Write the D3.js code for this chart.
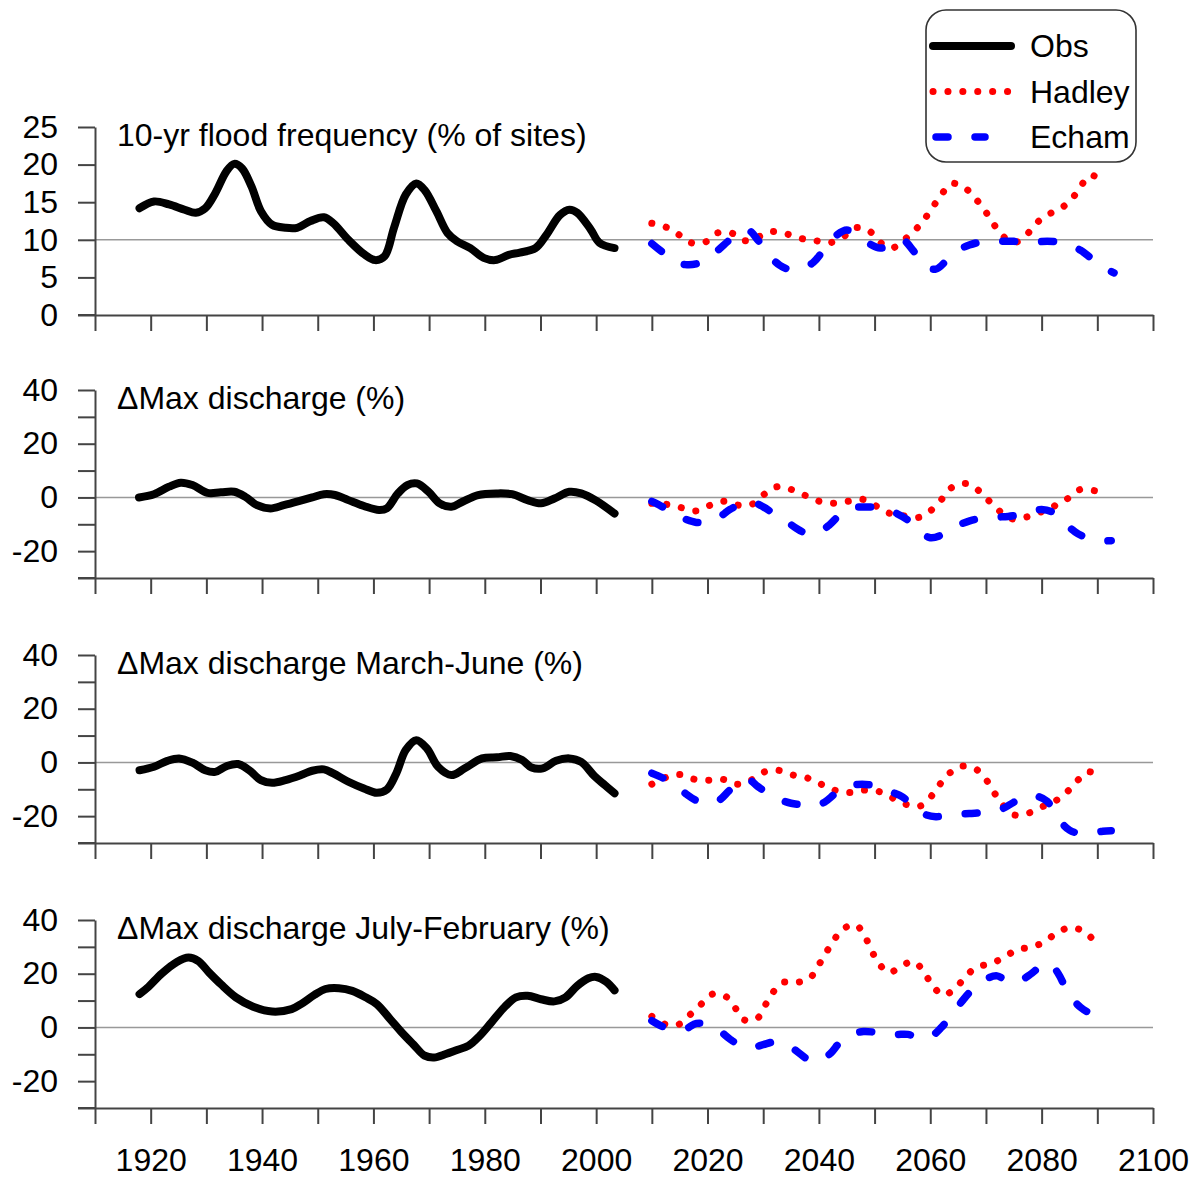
<!DOCTYPE html>
<html>
<head>
<meta charset="utf-8">
<script src="https://cdn.jsdelivr.net/npm/d3@7"></script>
<style>
  body { margin: 0; background: #fff; overflow: hidden; }
  svg { display: block; font-family: "Liberation Sans", Arial, sans-serif; }
  .axis path, .axis line { stroke: #444; stroke-width: 2; }
  .axis text { font-size: 32px; fill: #000; }
</style>
</head>
<body>
<div class="container"></div>
<script>
// ---- data (year, value) ----
var titles = ["10-yr flood frequency (% of sites)", "\u0394Max discharge (%)",
              "\u0394Max discharge March-June (%)", "\u0394Max discharge July-February (%)"];
var legendNames = ["Obs", "Hadley", "Echam"];
var xTickYears = d3.range(1910, 2101, 10);
var xLabelYears = d3.range(1920, 2101, 20);
var refValues = [10, 0, 0, 0];

var obsFlood = [[1918,14.2],[1920.6,15.1],[1923.3,14.7],[1926.1,14.0],[1928.1,13.6],[1929.8,14.2],[1931.6,16.2],[1933.6,19.1],[1935,20.1],[1936.4,19.5],[1938.1,17.1],[1939.8,13.8],[1941.8,12.0],[1944.2,11.6],[1946.3,11.6],[1948.7,12.5],[1951.1,13.0],[1952.8,12.2],[1955.5,10.0],[1958.3,8.1],[1960.3,7.3],[1962,7.8],[1963.7,11.6],[1965.8,16.0],[1967.7,17.5],[1969.2,16.6],[1971.3,13.8],[1973.3,10.9],[1975,9.8],[1977.4,8.9],[1979.8,7.6],[1981.9,7.3],[1984.3,8.0],[1986.3,8.3],[1989.1,8.9],[1991.1,10.7],[1993.5,13.3],[1995.2,14.0],[1996.6,13.6],[1999,11.4],[2000.6,9.6],[2003.3,8.9]];
var hadleyFlood = [[2010,12.2],[2012.5,11.7],[2014.8,10.7],[2017.1,9.6],[2019.6,9.7],[2021.7,10.9],[2024.3,10.9],[2026.5,9.9],[2029.1,10.4],[2031.5,11.1],[2034.1,10.8],[2036.7,10.2],[2039.3,9.9],[2041.9,9.6],[2044.4,10.4],[2046.6,11.6],[2049,11.2],[2050.9,9.7],[2053.1,8.9],[2055.3,10.0],[2057.3,11.3],[2059,12.8],[2060.5,14.4],[2062,16.0],[2063.8,17.5],[2066.2,16.9],[2068.1,15.5],[2069.8,13.9],[2071.2,12.3],[2072.8,10.7],[2074.9,9.6],[2077.2,10.6],[2078.9,12.1],[2081,13.3],[2083.5,14.2],[2085.5,15.5],[2087,17.1],[2088.8,18.6],[2090.9,17.8]];
var echamFlood = [[2010,9.5],[2012,8.3],[2014,7.2],[2016,6.7],[2018,6.8],[2020,7.5],[2022,8.7],[2024,10.0],[2026,11.0],[2027.5,11.2],[2029,10.0],[2031,8.0],[2033,6.6],[2035,6.0],[2037,6.2],[2039,7.0],[2041,8.8],[2043,10.5],[2045,11.3],[2047,10.5],[2049,9.5],[2051,8.9],[2053,9.3],[2055,10.0],[2057,8.5],[2059,6.6],[2061,6.1],[2063,7.3],[2065,8.6],[2067,9.3],[2069,9.7],[2071,9.8],[2073,9.8],[2075,9.8],[2077,9.6],[2079,9.7],[2081,9.8],[2083,9.7],[2085,9.3],[2087,8.6],[2089,7.5],[2091,6.4],[2093,5.6]];

var obsMax = [[1917.9,0.0],[1920.6,1.2],[1923.3,4.0],[1925.4,5.5],[1927.5,4.6],[1930.2,1.7],[1932.6,1.9],[1935,2.1],[1937,0.2],[1939.1,-2.9],[1941.5,-4.1],[1943.9,-2.9],[1946.6,-1.4],[1949,0.0],[1951.1,1.2],[1953.1,0.9],[1955.5,-1.0],[1958.3,-3.2],[1961,-4.7],[1962.4,-4.1],[1964.4,1.5],[1966.1,4.6],[1967.8,5.2],[1969.9,2.1],[1971.9,-2.2],[1974,-3.5],[1976,-1.6],[1978.8,0.9],[1982.2,1.5],[1984.9,1.2],[1987.7,-1.0],[1990.1,-2.2],[1992.5,-0.4],[1995.2,2.1],[1997.3,1.5],[2000,-1.2],[2003.3,-6.0]];
var hadleyMax = [[2010,-2.2],[2012.7,-2.6],[2015.3,-3.8],[2018,-5.0],[2020.5,-2.9],[2023,-1.4],[2025.6,-2.9],[2028,-2.5],[2030.2,1.2],[2032.5,4.0],[2035,3.0],[2037.6,0.7],[2040,-1.4],[2042.7,-2.2],[2045.3,-1.4],[2047.9,-0.7],[2050.3,-3.2],[2052.7,-5.9],[2055.4,-6.9],[2058,-7.4],[2060.2,-4.7],[2062.1,-0.6],[2063.8,3.6],[2066.4,5.2],[2068.6,2.7],[2070.6,-1.4],[2072.4,-5.0],[2074.8,-8.0],[2077.4,-7.2],[2080,-5.3],[2082.4,-3.1],[2084.7,-0.4],[2087,3.0],[2089.6,2.5],[2090.8,2.0]];
var echamMax = [[2010,-1.5],[2012,-3.6],[2014,-6.2],[2016,-8.1],[2018,-9.3],[2020,-9.0],[2022,-7.5],[2024,-4.5],[2026,-2.5],[2028,-1.8],[2030,-3.5],[2032,-6.2],[2034,-8.6],[2036,-11.6],[2038,-13.5],[2040,-13.0],[2042,-10.0],[2044,-6.0],[2046,-3.8],[2048,-3.6],[2050,-3.6],[2052,-4.4],[2054,-6.0],[2056,-8.5],[2058,-12.5],[2060,-15.0],[2062,-14.0],[2064,-11.2],[2066,-9.5],[2068,-8.2],[2070,-7.6],[2072,-7.3],[2074,-7.1],[2076,-6.4],[2078,-5.3],[2080,-4.5],[2082,-5.5],[2084,-9.2],[2086,-12.8],[2088,-15.0],[2090,-16.1],[2092.5,-16.1]];

var obsSpring = [[1918,-2.9],[1920.6,-1.6],[1923,0.6],[1925.1,1.5],[1927.5,-0.1],[1929.8,-2.9],[1931.6,-3.5],[1933.6,-1.4],[1935.7,-0.6],[1937.7,-2.9],[1939.8,-6.6],[1941.8,-7.6],[1944.2,-6.6],[1947,-4.7],[1949,-3.1],[1951.1,-2.6],[1952.8,-4.1],[1955.5,-7.2],[1958.3,-9.7],[1960.6,-11.3],[1962.4,-10.1],[1964.1,-4.1],[1965.8,4.6],[1967.7,8.3],[1969.6,5.2],[1971.6,-1.6],[1974,-4.7],[1976.4,-2.2],[1979.5,1.5],[1982.2,1.9],[1984.6,2.4],[1986.7,0.9],[1988.4,-1.9],[1990.4,-2.2],[1992.8,0.6],[1995.2,1.5],[1997.3,0.2],[1999.7,-5.1],[2001.6,-8.5],[2003.3,-11.5]];
var hadleySpring = [[2010,-8.1],[2012.5,-5.6],[2015,-4.5],[2017.5,-6.2],[2020.2,-6.6],[2022.8,-6.3],[2025.4,-8.1],[2027.8,-6.6],[2030.1,-3.6],[2032.6,-2.9],[2035.2,-4.6],[2037.8,-5.7],[2040.3,-8.0],[2042.8,-10.3],[2045.4,-11.2],[2048,-10.3],[2050.7,-10.8],[2053.1,-13.1],[2055.5,-15.5],[2058.1,-16.3],[2060.1,-12.8],[2061.6,-8.5],[2063.4,-4.1],[2065.6,-1.4],[2068.2,-2.5],[2070.1,-6.6],[2071.5,-11.3],[2072.9,-15.5],[2075,-19.5],[2077.6,-18.9],[2080.1,-16.5],[2082.5,-14.3],[2084.6,-10.9],[2086.5,-6.6],[2088.5,-3.5],[2090.9,-5.6]];
var echamSpring = [[2010,-4.0],[2012,-5.8],[2014,-8.5],[2016,-11.5],[2018,-14.2],[2020,-15.3],[2022,-14.2],[2024,-10.3],[2026,-7.0],[2027.5,-6.6],[2029,-8.9],[2031,-11.8],[2033,-13.9],[2035,-15.2],[2037,-15.8],[2039,-16.2],[2041,-14.8],[2043,-11.5],[2045,-9.0],[2047,-8.2],[2049,-8.3],[2051,-9.3],[2053,-11.0],[2055,-12.8],[2057,-16.5],[2059,-19.3],[2061,-20.2],[2063,-19.7],[2065,-19.3],[2067,-19.0],[2069,-18.8],[2071,-18.5],[2073,-17.2],[2075,-14.8],[2077,-12.7],[2079,-12.5],[2081,-14.5],[2083,-21.0],[2085,-25.2],[2087,-26.5],[2089,-26.4],[2091,-25.6],[2092.5,-25.4]];

var obsAutumn = [[1918,12.4],[1919.6,15.1],[1922,20.1],[1924.7,24.4],[1926.8,26.0],[1928.5,24.8],[1930.5,20.4],[1932.6,16.1],[1935.3,11.2],[1938.4,7.7],[1941.8,5.9],[1945.3,6.8],[1947,8.7],[1949.4,12.1],[1951.4,14.3],[1953.8,14.6],[1956.2,13.6],[1958.6,11.2],[1960.6,8.7],[1963,3.1],[1965.1,-1.9],[1967.2,-6.4],[1969.2,-10.5],[1970.9,-11.2],[1973,-9.9],[1975,-8.4],[1977.1,-6.8],[1979.1,-3.1],[1981.2,1.9],[1983.6,7.7],[1985.6,11.2],[1987.7,11.8],[1990.1,10.5],[1992.5,9.7],[1994.5,11.2],[1996.6,15.5],[1998.6,18.3],[2000,18.8],[2001.8,17.0],[2003.3,13.8]];
var hadleyAutumn = [[2010,4.1],[2012.4,1.2],[2014.9,1.2],[2017,5.0],[2018.9,8.7],[2020.9,12.4],[2023.3,11.5],[2025,7.2],[2026.5,2.9],[2028.8,3.1],[2030.2,7.7],[2031.6,12.6],[2033.4,16.7],[2035.8,16.7],[2038.3,18.2],[2039.8,22.7],[2041.2,27.5],[2042.6,32.2],[2044.3,36.6],[2046.6,38.2],[2048.2,34.1],[2049.4,28.9],[2050.7,24.0],[2052.6,20.4],[2054.8,22.9],[2057.1,24.5],[2058.9,20.4],[2060.4,15.7],[2062.3,12.0],[2064.5,14.6],[2066.3,18.8],[2068.3,22.4],[2070.8,23.7],[2073.2,26.0],[2075.6,29.0],[2078.2,29.9],[2080.6,32.0],[2082.8,35.3],[2085.2,37.2],[2087.7,35.6],[2089.7,31.6]];
var echamAutumn = [[2010,2.5],[2012,0.3],[2014,-0.5],[2016,-0.6],[2018,1.5],[2020,1.0],[2022,-1.0],[2024,-4.3],[2026,-6.8],[2028,-7.5],[2030,-6.4],[2032,-5.4],[2034,-6.2],[2036,-8.8],[2038,-11.8],[2040,-12.5],[2042,-9.8],[2044,-5.0],[2046,-2.5],[2048,-1.5],[2050,-1.8],[2052,-2.5],[2054,-2.6],[2056,-2.6],[2058,-3.8],[2060,-3.5],[2062,0.0],[2064,5.2],[2066,10.5],[2068,15.0],[2070,18.0],[2072,19.2],[2074,17.0],[2076,17.3],[2078,19.8],[2080,23.0],[2081.5,23.8],[2083,20.0],[2085,12.0],[2087,7.5],[2089,5.0],[2091,3.6],[2092.5,2.8]];

// ---- layout ----
var width = 1200, height = 1177;
var left = 95, right = 1153;
var panelTops = [127, 390, 655, 920];
var panelH = 188;
var tickLen = 17;

var panels = [
  {title: titles[0], domain: [0, 25], ticks: d3.range(0, 26, 5), labels: d3.range(0, 26, 5), ref: refValues[0], obs: obsFlood, had: hadleyFlood, ech: echamFlood},
  {title: titles[1], domain: [-30, 40], ticks: d3.range(-30, 41, 10), labels: [-20, 0, 20, 40], ref: refValues[1], obs: obsMax, had: hadleyMax, ech: echamMax},
  {title: titles[2], domain: [-30, 40], ticks: d3.range(-30, 41, 10), labels: [-20, 0, 20, 40], ref: refValues[2], obs: obsSpring, had: hadleySpring, ech: echamSpring},
  {title: titles[3], domain: [-30, 40], ticks: d3.range(-30, 41, 10), labels: [-20, 0, 20, 40], ref: refValues[3], obs: obsAutumn, had: hadleyAutumn, ech: echamAutumn}
];

var svg = d3.select(".container").append("svg")
            .attr("width", width)
            .attr("height", height);

var x = d3.scaleLinear().domain([1910, 2100]).range([left, right]);

var styles = {
  obs: {stroke: "#000", width: 8, dash: null},
  had: {stroke: "#ff0000", width: 7, dash: "0.1 14.8"},
  ech: {stroke: "#0000ff", width: 7.5, dash: "12 27"}
};

panels.forEach(function(p, i) {
  var top = panelTops[i];
  var y = d3.scaleLinear().domain(p.domain).range([top + panelH, top]);
  var g = svg.append("g");

  // reference line
  g.append("line")
   .attr("x1", left).attr("x2", right)
   .attr("y1", y(p.ref)).attr("y2", y(p.ref))
   .attr("stroke", "#999").attr("stroke-width", 1.6);

  // y axis
  g.append("g").attr("class", "axis")
   .attr("transform", `translate(${left},0)`)
   .call(d3.axisLeft(y).tickValues(p.ticks).tickSize(tickLen).tickSizeOuter(0).tickPadding(20)
          .tickFormat(d => p.labels.indexOf(d) >= 0 ? d : ""));

  // x axis
  var xa = g.append("g").attr("class", "axis")
   .attr("transform", `translate(0,${top + panelH})`)
   .call(d3.axisBottom(x).tickValues(xTickYears).tickSize(16).tickSizeOuter(0).tickPadding(24)
          .tickFormat(d => (i === 3 && xLabelYears.indexOf(d) >= 0) ? d : ""));
  xa.append("line")
    .attr("x1", left - tickLen).attr("x2", left)
    .attr("stroke", "#444").attr("stroke-width", 2);

  // title
  g.append("text")
   .attr("x", 117).attr("y", top + 19)
   .attr("font-size", 32)
   .text(p.title);

  var line = d3.line()
               .x(d => x(d[0]))
               .y(d => y(d[1]))
               .curve(d3.curveCatmullRom.alpha(0.5));

  ["obs", "had", "ech"].forEach(function(k) {
    g.append("path")
     .attr("d", line(p[k]))
     .attr("fill", "none")
     .attr("stroke", styles[k].stroke)
     .attr("stroke-width", styles[k].width)
     .attr("stroke-linecap", "round")
     .attr("stroke-linejoin", "round")
     .attr("stroke-dasharray", styles[k].dash);
  });
});

// legend
var legend = svg.append("g");
legend.append("rect")
      .attr("x", 926).attr("y", 10)
      .attr("width", 210).attr("height", 152)
      .attr("rx", 20).attr("ry", 20)
      .attr("fill", "#fff")
      .attr("stroke", "#333").attr("stroke-width", 1.6);

var legendX = {obs: [933, 1011], had: [933, 1010], ech: [936, 985]};
["obs", "had", "ech"].forEach(function(k, j) {
  var ly = 46 + j * 45.5;
  legend.append("line")
        .attr("x1", legendX[k][0]).attr("x2", legendX[k][1])
        .attr("y1", ly).attr("y2", ly)
        .attr("stroke", styles[k].stroke)
        .attr("stroke-width", styles[k].width)
        .attr("stroke-linecap", "round")
        .attr("stroke-dasharray", styles[k].dash);
  legend.append("text")
        .attr("x", 1030).attr("y", ly + 11)
        .attr("font-size", 32)
        .text(legendNames[j]);
});
</script>
</body>
</html>
